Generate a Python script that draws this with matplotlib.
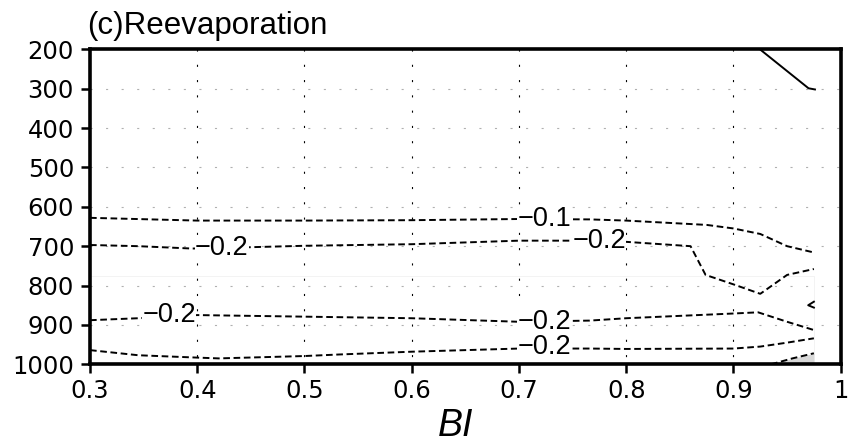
import numpy as np
import matplotlib.pyplot as plt

plt.rcParams['lines.scale_dashes'] = False
plt.rcParams['font.family'] = ['DejaVu Sans']

# contour lines (BI, pressure hPa)
c1_x = [0.300, 0.400, 0.500, 0.600, 0.700, 0.766, 0.800, 0.875, 0.900, 0.925, 0.950, 0.975]
c1_p = [628, 635, 635, 634, 631, 632, 635, 646, 655, 669, 700, 716]

c2_x = [0.300, 0.345, 0.395, 0.430, 0.500, 0.600, 0.700, 0.775, 0.800, 0.860, 0.874, 0.900, 0.925, 0.950, 0.975]
c2_p = [697, 700, 706, 704, 699, 695, 686, 686, 689, 700, 773, 797, 821, 773, 758]

c3_x = [0.300, 0.345, 0.400, 0.500, 0.600, 0.700, 0.766, 0.800, 0.900, 0.923, 0.950, 0.975]
c3_p = [888, 883, 875, 879, 883, 892, 889, 883, 871, 868, 892, 913]

c4_x = [0.300, 0.345, 0.400, 0.420, 0.500, 0.533, 0.600, 0.700, 0.766, 0.800, 0.900, 0.925, 0.950, 0.975]
c4_p = [964, 977, 983, 985, 979, 975, 968, 960, 960, 961, 960, 955, 945, 934]

c5_x = [0.935, 0.955, 0.975]
c5_p = [1000, 985, 972]

c0_x = [0.9256, 0.970, 0.976]
c0_p = [202, 299, 302]

small_x = [0.975, 0.9697, 0.975]
small_p = [841, 850, 856]

# inline labels
lab_x = [0.7235, 0.423, 0.775, 0.374, 0.7235, 0.7235]
lab_p = [631, 705, 686, 875, 892, 955]
lab_t = ['\u22120.1', '\u22120.2', '\u22120.2', '\u22120.2', '\u22120.2', '\u22120.2']

# faint shaded box edge
box_x = [0.300, 0.975, 0.975]
box_p = [776, 776, 1000]

xticks = [0.3, 0.4, 0.5, 0.6, 0.7, 0.8, 0.9, 1.0]
xtick_labels = ['0.3', '0.4', '0.5', '0.6', '0.7', '0.8', '0.9', '1']
yticks = [200, 300, 400, 500, 600, 700, 800, 900, 1000]

fig = plt.figure(figsize=(8.55, 4.44), dpi=100)
ax = fig.add_axes([90 / 855, 1 - 364.3 / 444, 750.7 / 855, 315 / 444])

# grid
for yv in yticks[1:-1]:
    ax.plot([0.3, 1.0], [yv, yv], color='#b0b0b0', lw=0.8, dashes=(1.5, 9.7), zorder=1)
for xv in xticks[1:-1]:
    ax.plot([xv, xv], [200, 1000], color='black', lw=0.8, dashes=(1.5, 9.5), zorder=1)

ax.plot(box_x, box_p, color='#f3f3f3', lw=0.7, zorder=1)

# shaded region
ax.fill_between(c5_x, c5_p, 1000, color='#d8d8d8', lw=0, zorder=2)

dash = (4.8, 2.6)
for xs, ps in [(c1_x, c1_p), (c2_x, c2_p), (c3_x, c3_p), (c4_x, c4_p), (c5_x, c5_p)]:
    ax.plot(xs, ps, color='black', lw=1.4, dashes=dash, zorder=3)
ax.plot(small_x, small_p, color='black', lw=1.4, zorder=3)
ax.plot(c0_x, c0_p, color='black', lw=1.4, zorder=3)

for lx, lp, lt in zip(lab_x, lab_p, lab_t):
    ax.text(lx, lp, lt, fontsize=19.5, ha='center', va='center', zorder=4,
            family='Liberation Sans',
            bbox=dict(facecolor='white', edgecolor='none', pad=0.2))

ax.set_xlim(0.3, 1.0)
ax.set_ylim(1000, 200)
ax.set_xticks(xticks)
ax.set_xticklabels(xtick_labels)
ax.set_yticks(yticks)
ax.tick_params(axis='both', direction='out', length=6.5, width=1.8, labelsize=17.5)
ax.tick_params(axis='y', pad=5)
ax.tick_params(axis='x', pad=4)
for s in ax.spines.values():
    s.set_linewidth(2.6)

fig.text(87 / 855, 1 - 34 / 444, '(c)Reevaporation', fontsize=22.5,
         family='Liberation Sans', va='baseline', ha='left')
fig.text(456 / 855, 1 - 436 / 444, 'BI', fontsize=27, style='italic',
         family='Liberation Sans', va='baseline', ha='center')

fig.savefig('out.png', dpi=100)
